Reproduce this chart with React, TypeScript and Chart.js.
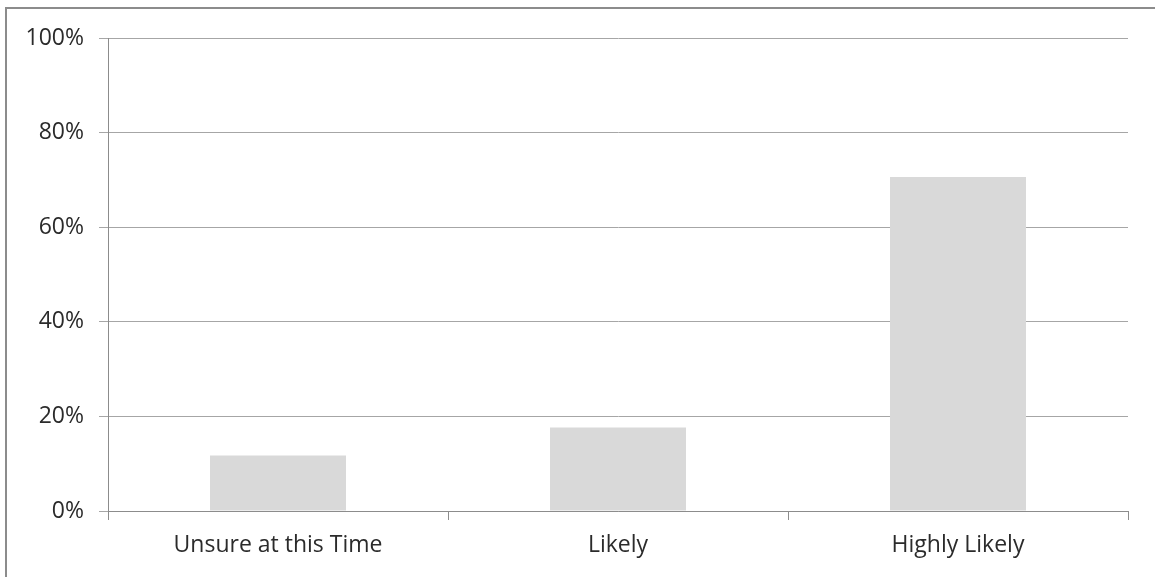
import React, { useEffect, useRef } from "react";
import { Chart, registerables } from "chart.js";

Chart.register(...registerables);

// Survey answers and their share of responses (percent)
const categories: string[] = ["Unsure at this Time", "Likely", "Highly Likely"];
const shares: number[] = [11.76, 17.65, 70.59];
const yTickValues: number[] = [0, 20, 40, 60, 80, 100];

const FONT = "'Open Sans', Lato, 'Liberation Sans', sans-serif";
const TEXT = "#2b2b2b";
const GRID = "#a6a6a6";
const AXIS = "#8c8c8c";

export default function App() {
  const canvasRef = useRef<HTMLCanvasElement | null>(null);

  useEffect(() => {
    const canvas = canvasRef.current;
    if (!canvas) return;
    const chart = new Chart(canvas, {
      type: "bar",
      data: {
        labels: categories,
        datasets: [
          {
            data: shares,
            backgroundColor: "#d9d9d9",
            borderWidth: 0,
            categoryPercentage: 1,
            barPercentage: 0.4,
          },
        ],
      },
      options: {
        responsive: false,
        animation: false,
        layout: { padding: { top: 38, right: 27, left: 0, bottom: 0 } },
        plugins: {
          legend: { display: false },
          tooltip: { enabled: false },
        },
        scales: {
          x: {
            grid: {
              display: true,
              drawOnChartArea: false,
              drawTicks: true,
              tickLength: 9,
              color: AXIS,
              lineWidth: 1,
            },
            border: { display: true, color: AXIS, width: 1 },
            ticks: {
              color: TEXT,
              font: { family: FONT, size: 23 },
              padding: 12,
              maxRotation: 0,
              autoSkip: false,
            },
            afterFit: (scale: any) => {
              scale.height = 66;
            },
          },
          y: {
            min: 0,
            max: 100,
            afterBuildTicks: (scale: any) => {
              scale.ticks = yTickValues.map((v) => ({ value: v }));
            },
            grid: {
              color: GRID,
              lineWidth: 1,
              drawTicks: true,
              tickLength: 9,
            },
            border: { display: true, color: AXIS, width: 1 },
            ticks: {
              color: TEXT,
              font: { family: FONT, size: 23 },
              padding: 15,
              callback: (v: any) => `${v}%`,
            },
            afterFit: (scale: any) => {
              scale.width = 108;
            },
          },
        },
      },
    });
    return () => chart.destroy();
  }, []);

  return (
    <div
      style={{
        position: "absolute",
        left: 0,
        top: 0,
        width: 1155,
        height: 577,
        overflow: "hidden",
        background: "#ffffff",
      }}
    >
      <div
        style={{
          position: "absolute",
          left: 5,
          top: 7,
          width: 1200,
          height: 600,
          borderTop: "2px solid #8c8c8c",
          borderLeft: "2px solid #8c8c8c",
        }}
      />
      <canvas
        ref={canvasRef}
        width={1155}
        height={577}
        style={{ position: "absolute", left: 0, top: 0, width: 1155, height: 577 }}
      />
    </div>
  );
}
